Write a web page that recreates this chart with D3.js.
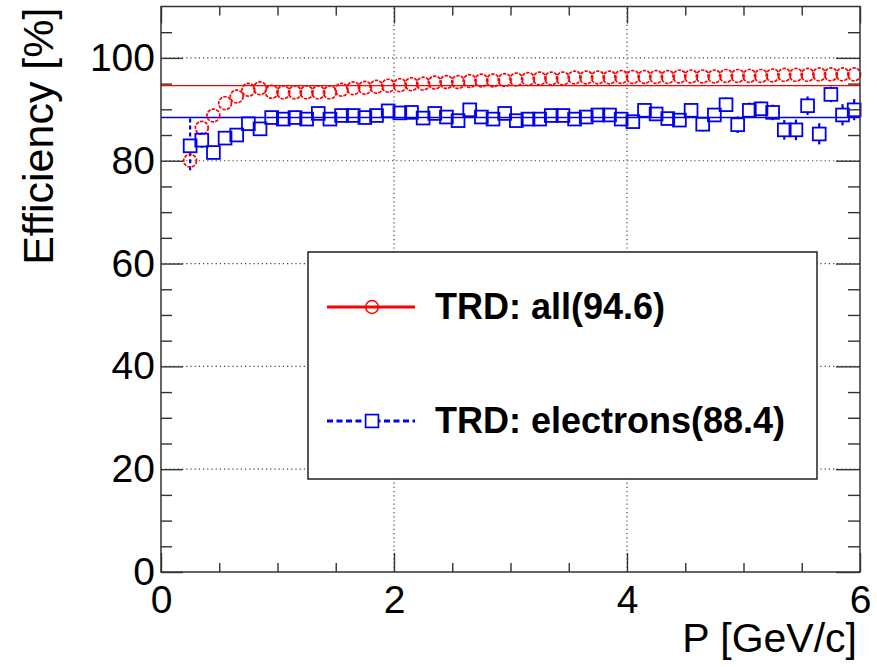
<!DOCTYPE html>
<html>
<head>
<meta charset="utf-8">
<script src="https://cdn.jsdelivr.net/npm/d3@7"></script>
<style>
  html, body { margin: 0; padding: 0; background: #fff; }
  svg { display: block; }
</style>
</head>
<body>
<div id="chart"></div>
<script>
// bin centres (GeV/c)
const momentum = [
  0.25, 0.35, 0.45, 0.55, 0.65, 0.75, 0.85, 0.95, 1.05, 1.15,
  1.25, 1.35, 1.45, 1.55, 1.65, 1.75, 1.85, 1.95, 2.05, 2.15,
  2.25, 2.35, 2.45, 2.55, 2.65, 2.75, 2.85, 2.95, 3.05, 3.15,
  3.25, 3.35, 3.45, 3.55, 3.65, 3.75, 3.85, 3.95, 4.05, 4.15,
  4.25, 4.35, 4.45, 4.55, 4.65, 4.75, 4.85, 4.95, 5.05, 5.15,
  5.25, 5.35, 5.45, 5.55, 5.65, 5.75, 5.85, 5.95
];

// TRD efficiency, all tracks [%]
const effAll = [
  80.0, 86.4, 88.8, 91.2, 92.5, 93.8, 94.1, 93.4, 93.3, 93.3,
  93.3, 93.3, 93.3, 93.8, 94.1, 94.2, 94.4, 94.6, 94.7, 94.9,
  95.0, 95.2, 95.3, 95.3, 95.5, 95.6, 95.6, 95.7, 95.8, 95.9,
  96.0, 96.0, 96.0, 96.2, 96.2, 96.2, 96.2, 96.3, 96.3, 96.3,
  96.3, 96.3, 96.4, 96.4, 96.4, 96.4, 96.5, 96.5, 96.5, 96.5,
  96.6, 96.7, 96.7, 96.7, 96.8, 96.8, 96.8, 96.8
];

// TRD efficiency, electrons [%]
const effEle = [
  82.9, 84.0, 81.6, 84.4, 85.0, 87.2, 86.2, 88.4, 88.1, 88.4,
  88.1, 89.2, 88.1, 88.8, 88.8, 88.4, 88.8, 89.7, 89.3, 89.4,
  88.3, 89.2, 88.5, 87.8, 89.9, 88.5, 88.1, 89.2, 87.8, 88.1,
  88.1, 88.8, 88.8, 88.1, 88.5, 88.9, 88.9, 88.1, 87.6, 89.8,
  89.1, 88.2, 87.9, 89.8, 87.1, 88.9, 90.9, 87.0, 89.8, 90.1,
  89.4, 86.0, 86.0, 90.7, 85.2, 92.9, 88.9, 89.9
];
const errEle = [
  5.3, 1.5, 1.2, 1.0, 0.9, 0.8, 0.8, 0.7, 0.7, 0.7,
  0.7, 0.7, 0.7, 0.7, 0.7, 0.7, 0.7, 0.7, 0.7, 0.7,
  0.7, 0.7, 0.7, 0.7, 0.8, 0.8, 0.8, 0.8, 0.8, 0.8,
  0.8, 0.8, 0.8, 0.9, 0.9, 0.9, 0.9, 0.9, 1.0, 1.0,
  1.0, 1.0, 1.1, 1.1, 1.4, 1.3, 1.4, 1.6, 1.5, 1.4,
  1.5, 1.9, 2.0, 1.8, 2.1, 1.5, 2.1, 2.1
];

// mean values quoted in the legend
const meanAll = 94.6;
const meanEle = 88.4;
const legendLabels = ["TRD: all(94.6)", "TRD: electrons(88.4)"];

const xMajor = [0, 2, 4, 6];
const xMinor = [0.5, 1, 1.5, 2.5, 3, 3.5, 4.5, 5, 5.5];
const yMajor = [0, 20, 40, 60, 80, 100];
const yMinor = [5, 10, 15, 25, 30, 35, 45, 50, 55, 65, 70, 75, 85, 90, 95, 105];
const xGrid = [2, 4];
const yGrid = [20, 40, 60, 80, 100];

const width = 877;
const height = 667;
const plotL = 161, plotR = 860, plotT = 6.5, plotB = 572;
const font = "'Liberation Sans', Arial, Helvetica, sans-serif";
const red = "#ff0000";
const blue = "#0000ee";

const svg = d3.select("#chart").append("svg")
  .attr("width", width)
  .attr("height", height)
  .attr("viewBox", `0 0 ${width} ${height}`);

const x = d3.scaleLinear().domain([0, 6]).range([plotL, plotR]);
const y = d3.scaleLinear().domain([0, 110]).range([plotB, plotT]);

// dotted grid
svg.append("g").selectAll("line")
  .data(xGrid).enter().append("line")
  .attr("x1", d => x(d)).attr("x2", d => x(d))
  .attr("y1", plotB).attr("y2", plotT)
  .attr("stroke", "#444").attr("stroke-width", 1.2)
  .attr("stroke-dasharray", "1.2,3");
svg.append("g").selectAll("line")
  .data(yGrid).enter().append("line")
  .attr("x1", plotL).attr("x2", plotR)
  .attr("y1", d => y(d)).attr("y2", d => y(d))
  .attr("stroke", "#444").attr("stroke-width", 1.2)
  .attr("stroke-dasharray", "1.2,3");

// mean lines
svg.append("line")
  .attr("x1", plotL).attr("x2", plotR)
  .attr("y1", y(meanAll)).attr("y2", y(meanAll))
  .attr("stroke", red).attr("stroke-width", 1.4);
svg.append("line")
  .attr("x1", plotL).attr("x2", plotR)
  .attr("y1", y(meanEle)).attr("y2", y(meanEle))
  .attr("stroke", blue).attr("stroke-width", 1.4);

const half = 6.4; // marker half size in px

// electron error bars (only the part outside the marker is drawn)
const eleData = momentum.map((p, i) => ({ p, v: effEle[i], e: errEle[i] }));
const errG = svg.append("g")
  .attr("stroke", blue).attr("stroke-width", 2.2)
  .attr("stroke-dasharray", "4,3");
eleData.filter(d => y(d.v - d.e) - y(d.v) > half).forEach(d => {
  errG.append("line")
    .attr("x1", x(d.p)).attr("x2", x(d.p))
    .attr("y1", y(d.v + d.e)).attr("y2", y(d.v) - half);
  errG.append("line")
    .attr("x1", x(d.p)).attr("x2", x(d.p))
    .attr("y1", y(d.v) + half).attr("y2", y(d.v - d.e));
});

// red open circles
svg.append("g").selectAll("circle")
  .data(momentum.map((p, i) => ({ p, v: effAll[i] })))
  .enter().append("circle")
  .attr("cx", d => x(d.p))
  .attr("cy", d => y(d.v))
  .attr("r", half)
  .attr("fill", "none")
  .attr("stroke", red)
  .attr("stroke-width", 1.7)
  .attr("stroke-dasharray", "3.4,1.2");

// blue open squares
svg.append("g").selectAll("rect")
  .data(eleData)
  .enter().append("rect")
  .attr("x", d => x(d.p) - half)
  .attr("y", d => y(d.v) - half)
  .attr("width", half * 2)
  .attr("height", half * 2)
  .attr("fill", "none")
  .attr("stroke", blue)
  .attr("stroke-width", 1.8);

// axes (ROOT style: ticks inside, on all four sides)
function styleAxis(g) {
  g.select(".domain").remove();
  g.selectAll(".tick line").attr("stroke", "#333").attr("stroke-width", 1.4);
  g.selectAll("text")
    .attr("font-family", font)
    .attr("font-size", 39)
    .attr("fill", "#000");
}

svg.append("g").attr("transform", `translate(0,${plotB})`)
  .call(d3.axisBottom(x).tickValues(xMajor).tickSize(-19).tickPadding(13).tickFormat(d3.format("d")))
  .call(styleAxis);
svg.append("g").attr("transform", `translate(0,${plotB})`)
  .call(d3.axisBottom(x).tickValues(xMinor).tickSize(-9).tickFormat(""))
  .call(styleAxis);
svg.append("g").attr("transform", `translate(0,${plotT})`)
  .call(d3.axisTop(x).tickValues(xMajor).tickSize(-17).tickFormat(""))
  .call(styleAxis);
svg.append("g").attr("transform", `translate(0,${plotT})`)
  .call(d3.axisTop(x).tickValues(xMinor).tickSize(-9).tickFormat(""))
  .call(styleAxis);

svg.append("g").attr("transform", `translate(${plotL},0)`)
  .call(d3.axisLeft(y).tickValues(yMajor).tickSize(-22).tickPadding(6).tickFormat(d3.format("d")))
  .call(styleAxis);
svg.append("g").attr("transform", `translate(${plotL},0)`)
  .call(d3.axisLeft(y).tickValues(yMinor).tickSize(-11).tickFormat(""))
  .call(styleAxis);
svg.append("g").attr("transform", `translate(${plotR},0)`)
  .call(d3.axisRight(y).tickValues(yMajor).tickSize(-24).tickFormat(""))
  .call(styleAxis);
svg.append("g").attr("transform", `translate(${plotR},0)`)
  .call(d3.axisRight(y).tickValues(yMinor).tickSize(-12).tickFormat(""))
  .call(styleAxis);

// frame
svg.append("rect")
  .attr("x", plotL).attr("y", plotT)
  .attr("width", plotR - plotL).attr("height", plotB - plotT)
  .attr("fill", "none").attr("stroke", "#333").attr("stroke-width", 1.5);

// axis titles
svg.append("text")
  .attr("x", plotR - 3).attr("y", 652)
  .attr("text-anchor", "end")
  .attr("font-family", font).attr("font-size", 41)
  .text("P [GeV/c]");
svg.append("text")
  .attr("transform", `translate(53,${plotT + 1}) rotate(-90)`)
  .attr("text-anchor", "end")
  .attr("font-family", font).attr("font-size", 43)
  .text("Efficiency [%]");

// legend
const lg = svg.append("g");
lg.append("rect")
  .attr("x", 308).attr("y", 252).attr("width", 509).attr("height", 227)
  .attr("fill", "#fff").attr("stroke", "#222").attr("stroke-width", 1.5);

lg.append("line")
  .attr("x1", 327).attr("x2", 415).attr("y1", 307).attr("y2", 307)
  .attr("stroke", red).attr("stroke-width", 2.8);
lg.append("circle")
  .attr("cx", 372).attr("cy", 307).attr("r", half)
  .attr("fill", "none").attr("stroke", red).attr("stroke-width", 1.5);
lg.append("line")
  .attr("x1", 327).attr("x2", 415).attr("y1", 421).attr("y2", 421)
  .attr("stroke", blue).attr("stroke-width", 2.8)
  .attr("stroke-dasharray", "6,3.5");
lg.append("rect")
  .attr("x", 372 - half).attr("y", 421 - half)
  .attr("width", half * 2).attr("height", half * 2)
  .attr("fill", "#fff").attr("stroke", blue).attr("stroke-width", 1.7);

lg.selectAll("text.leg")
  .data(legendLabels).enter().append("text")
  .attr("class", "leg")
  .attr("x", 435)
  .attr("y", (d, i) => i === 0 ? 319 : 433)
  .attr("font-family", font).attr("font-size", 36).attr("font-weight", "bold")
  .text(d => d);
</script>
</body>
</html>
